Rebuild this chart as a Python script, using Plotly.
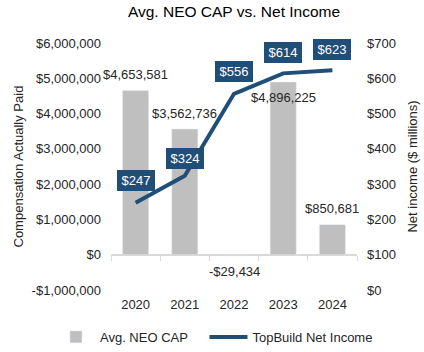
import plotly.graph_objects as go

years = ["2020", "2021", "2022", "2023", "2024"]
neo_cap = [4653581, 3562736, -29434, 4896225, 850681]
net_income = [247, 324, 556, 614, 623]
cap_labels = ["$4,653,581", "$3,562,736", "-$29,434", "$4,896,225", "$850,681"]
cap_label_shift = [16, 16, -16, -16, 16]
ni_labels = ["$247", "$324", "$556", "$614", "$623"]
ni_label_shift = [22, 17, 22, 21, 21]
left_ticks = [-1000000, 0, 1000000, 2000000, 3000000, 4000000, 5000000, 6000000]
left_ticktext = ["-$1,000,000", "$0", "$1,000,000", "$2,000,000", "$3,000,000",
                 "$4,000,000", "$5,000,000", "$6,000,000"]
right_ticks = [0, 100, 200, 300, 400, 500, 600, 700]
right_ticktext = ["$0", "$100", "$200", "$300", "$400", "$500", "$600", "$700"]

FONT = "Liberation Sans, Arial, sans-serif"
TXT = "#262626"
NAVY = "#1F4E79"
GREY = "#BFBFBF"

fig = go.Figure()
fig.add_trace(go.Bar(
    x=years, y=neo_cap, name="Avg. NEO CAP", marker_color=GREY, width=0.53,
    xaxis="x", yaxis="y", legend="legend",
))
fig.add_trace(go.Scatter(
    x=years, y=net_income, name="TopBuild Net Income", mode="lines",
    line=dict(color=NAVY, width=4), xaxis="x2", yaxis="y2", legend="legend2",
))

annotations = []
for i, (v, t, s) in enumerate(zip(neo_cap, cap_labels, cap_label_shift)):
    annotations.append(dict(x=i, y=v, xref="x", yref="y", text=t, showarrow=False,
                            yshift=s, font=dict(size=13, color=TXT, family=FONT)))
for i, (v, t, s) in enumerate(zip(net_income, ni_labels, ni_label_shift)):
    annotations.append(dict(x=i, y=v, xref="x", yref="y2", text=t, showarrow=False,
                            yshift=s, bgcolor=NAVY, borderpad=3, borderwidth=0,
                            width=32,
                            font=dict(size=13, color="white", family=FONT)))
annotations.append(dict(x=-0.378, y=0.5, xref="paper", yref="paper", xanchor="center",
                        yanchor="middle",
                        text="Compensation Actually Paid", textangle=-90, showarrow=False,
                        font=dict(size=13, color=TXT, family=FONT)))
annotations.append(dict(x=1.224, y=0.5, xref="paper", yref="paper", xanchor="center",
                        yanchor="middle",
                        text="Net income ($ millions)", textangle=-90, showarrow=False,
                        font=dict(size=13, color=TXT, family=FONT)))

legend_common = dict(orientation="h", y=-0.19, yanchor="middle", itemwidth=38,
                     font=dict(size=13, color=TXT, family=FONT),
                     bgcolor="rgba(0,0,0,0)")

fig.update_layout(
    width=424, height=352,
    margin=dict(l=111, r=67, t=43, b=62, autoexpand=False),
    paper_bgcolor="white", plot_bgcolor="white",
    font=dict(family=FONT, size=13, color=TXT),
    title=dict(text="Avg. NEO CAP vs. Net Income", x=0.5, xref="paper", y=0.966,
               yanchor="middle", font=dict(size=15.5, color="#000000", family=FONT)),
    showlegend=True,
    legend=dict(x=-0.24, xanchor="left", **legend_common),
    legend2=dict(x=0.38, xanchor="left", **legend_common),
    xaxis=dict(type="category", categoryorder="array", categoryarray=years,
               range=[-0.5, 4.5], showline=False, ticks="", showgrid=False,
               tickfont=dict(size=13, color=TXT), ticklabelstandoff=5),
    xaxis2=dict(type="category", categoryorder="array", categoryarray=years,
                range=[-0.5, 4.5], overlaying="x", anchor="free", position=1/7,
                showline=True, linecolor="#D9D9D9", linewidth=1,
                ticks="outside", tickson="boundaries", ticklen=5, tickcolor="#D9D9D9",
                showticklabels=False, showgrid=False),
    yaxis=dict(range=[-1000000, 6000000], tickvals=left_ticks, ticktext=left_ticktext,
               showgrid=False, zeroline=True, zerolinecolor="#D9D9D9", zerolinewidth=1,
               showline=False, ticks="", ticklabelstandoff=9,
               tickfont=dict(size=13, color=TXT)),
    yaxis2=dict(range=[0, 700], tickvals=right_ticks, ticktext=right_ticktext,
                overlaying="y", side="right", anchor="x",
                showgrid=False, zeroline=False, showline=False, ticks="",
                ticklabelstandoff=9,
                tickfont=dict(size=13, color=TXT)),
    annotations=annotations,
)

fig.write_html("out.html")
